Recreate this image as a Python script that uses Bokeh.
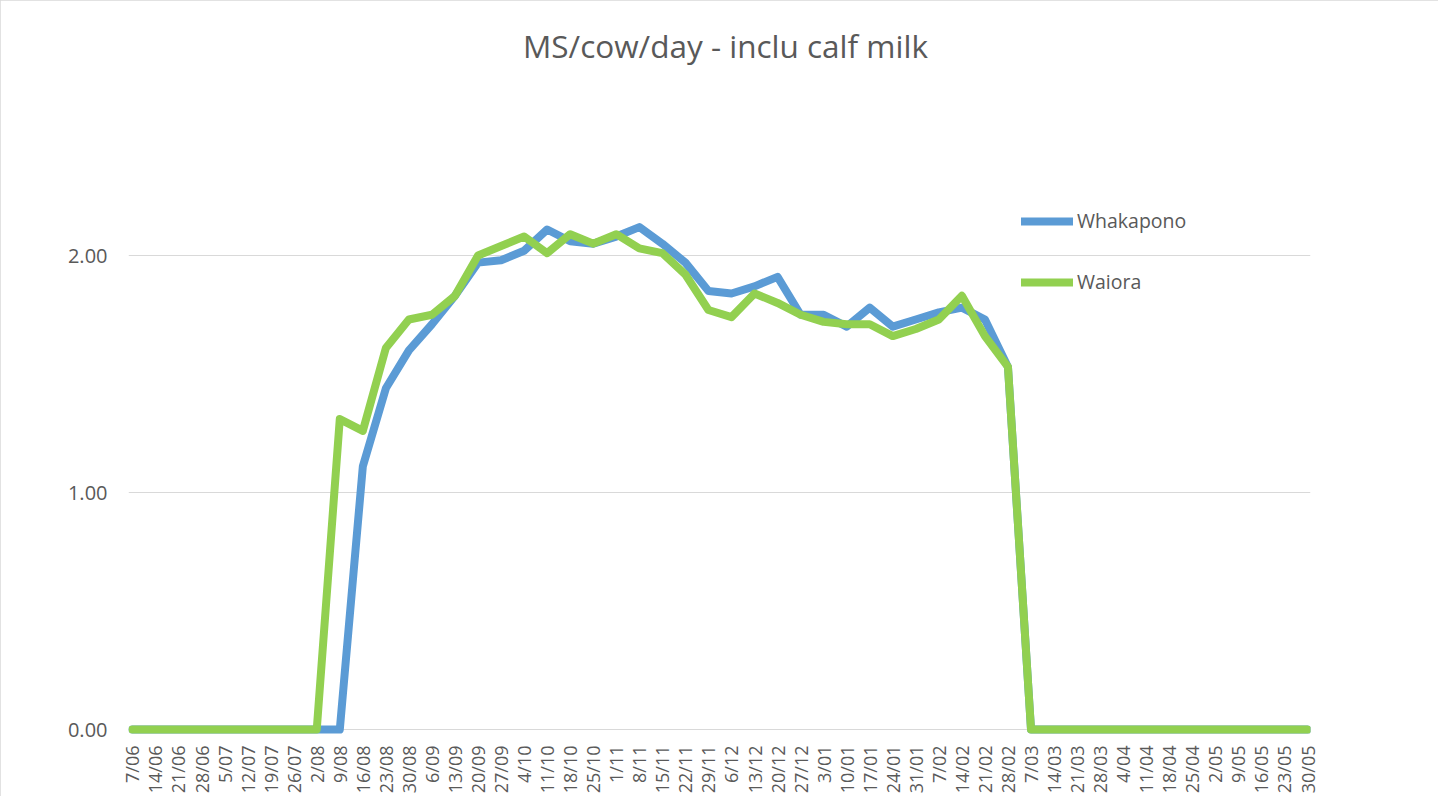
import math
from bokeh.plotting import figure
from bokeh.models import (Range1d, FixedTicker, NumeralTickFormatter, Legend,
                          LegendItem, Label, ColumnDataSource)
from bokeh.embed import file_html
from bokeh.resources import INLINE

dates = ["7/06", "14/06", "21/06", "28/06", "5/07", "12/07", "19/07", "26/07",
         "2/08", "9/08", "16/08", "23/08", "30/08", "6/09", "13/09", "20/09",
         "27/09", "4/10", "11/10", "18/10", "25/10", "1/11", "8/11", "15/11",
         "22/11", "29/11", "6/12", "13/12", "20/12", "27/12", "3/01", "10/01",
         "17/01", "24/01", "31/01", "7/02", "14/02", "21/02", "28/02", "7/03",
         "14/03", "21/03", "28/03", "4/04", "11/04", "18/04", "25/04", "2/05",
         "9/05", "16/05", "23/05", "30/05"]

whakapono = [0, 0, 0, 0, 0, 0, 0, 0, 0, 0,
             1.11, 1.44, 1.60, 1.71, 1.83, 1.97, 1.98, 2.02, 2.11, 2.06,
             2.05, 2.08, 2.12, 2.05, 1.97, 1.85, 1.84, 1.87, 1.91, 1.75,
             1.75, 1.70, 1.78, 1.70, 1.73, 1.76, 1.78, 1.73, 1.53,
             0, 0, 0, 0, 0, 0, 0, 0, 0, 0, 0, 0, 0]

waiora = [0, 0, 0, 0, 0, 0, 0, 0, 0,
          1.31, 1.26, 1.61, 1.73, 1.75, 1.83, 2.00, 2.04, 2.08, 2.01, 2.09,
          2.05, 2.09, 2.03, 2.01, 1.92, 1.77, 1.74, 1.84, 1.80, 1.75,
          1.72, 1.71, 1.71, 1.66, 1.69, 1.73, 1.83, 1.66, 1.53,
          0, 0, 0, 0, 0, 0, 0, 0, 0, 0, 0, 0, 0]

y_ticks = [0, 1, 2]
title_text = "MS/cow/day - inclu calf milk"
series_names = ["Whakapono", "Waiora"]
colors = ["#5B9BD5", "#92D050"]
TEXT = "#595959"
GRID = "#D9D9D9"
FONT = "Open Sans"

idx = list(range(len(dates)))
src = ColumnDataSource(dict(x=idx, w=whakapono, g=waiora))

p = figure(width=1438, height=796, output_backend="svg", toolbar_location=None,
           x_range=Range1d(-0.17, len(dates) - 1 + 0.13),
           y_range=Range1d(-0.025, 3.0),
           min_border_left=128, min_border_right=128,
           min_border_top=18, min_border_bottom=61)
p.outline_line_color = None
p.background_fill_color = "white"
p.border_fill_color = "white"
p.styles = {"outline": "2px solid #D9D9D9", "outline-offset": "-2px"}

r1 = p.line("x", "w", source=src, line_color=colors[0], line_width=8,
            line_join="round", line_cap="round")
r2 = p.line("x", "g", source=src, line_color=colors[1], line_width=8,
            line_join="round", line_cap="round")

# x axis
p.xaxis.ticker = FixedTicker(ticks=idx)
p.xaxis.major_label_overrides = {i: d for i, d in enumerate(dates)}
p.xaxis.major_label_orientation = math.pi / 2
p.xaxis.major_label_text_font = FONT
p.xaxis.major_label_text_font_size = "18px"
p.xaxis.major_label_text_color = TEXT
p.xaxis.major_label_standoff = 10
p.xaxis.major_tick_out = 0
p.xaxis.major_tick_in = 0
p.xaxis.minor_tick_out = 0
p.xaxis.minor_tick_in = 0
p.xaxis.axis_line_color = None

# y axis
p.yaxis.ticker = FixedTicker(ticks=y_ticks)
p.yaxis.formatter = NumeralTickFormatter(format="0.00")
p.yaxis.major_label_text_font = FONT
p.yaxis.major_label_text_font_size = "20px"
p.yaxis.major_label_text_color = TEXT
p.yaxis.major_label_standoff = 21
p.yaxis.major_tick_out = 0
p.yaxis.major_tick_in = 0
p.yaxis.minor_tick_out = 0
p.yaxis.minor_tick_in = 0
p.yaxis.axis_line_color = None

p.xgrid.grid_line_color = None
p.ygrid.ticker = FixedTicker(ticks=y_ticks)
p.ygrid.grid_line_color = GRID
p.ygrid.grid_line_width = 1
p.ygrid.level = "underlay"

# title
p.add_layout(Label(x=25.74, y=2.886, text=title_text, text_align="center",
                   text_baseline="middle", text_font=FONT,
                   text_font_size="31.5px", text_color=TEXT))

legend = Legend(items=[LegendItem(label=series_names[0], renderers=[r1]),
                       LegendItem(label=series_names[1], renderers=[r2])],
                location=(893, 440), orientation="vertical",
                glyph_width=52, glyph_height=20, label_height=20,
                spacing=34, padding=0, margin=0, label_standoff=4,
                border_line_color=None, background_fill_alpha=0,
                label_text_font=FONT, label_text_font_size="19.5px",
                label_text_color=TEXT)
p.add_layout(legend)

open("out.html", "w").write(file_html(p, INLINE))
